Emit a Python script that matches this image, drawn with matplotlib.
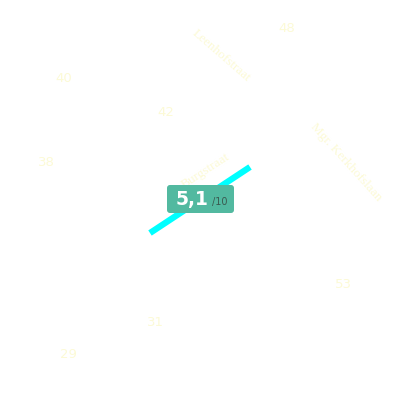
import matplotlib
matplotlib.use("Agg")
import matplotlib.pyplot as plt
from matplotlib.patches import FancyBboxPatch

# house numbers (label, x, y in pixel map coords)
num_labels = ["48", "40", "42", "38", "53", "31", "29"]
num_x = [287, 64, 166, 46, 343, 155, 68]
num_y = [29, 79, 112, 163, 285, 322, 355]

# street names
street_labels = ["Leenhofstraat", "Mgr. Kerkhofslaan", "Burgstraat"]
street_x = [221, 346, 205]
street_y = [56, 162, 171]
street_rot = [-41, -48, 33]

# route segment
seg_x = [150, 250]
seg_y = [233, 167]

score = "5,1"
score_max = "/10"

fig = plt.figure(figsize=(4, 4), dpi=100)
ax = fig.add_axes([0, 0, 1, 1])
ax.set_xlim(0, 400)
ax.set_ylim(400, 0)
ax.axis("off")

faint = "#fcfad6"
for t, x, y in zip(num_labels, num_x, num_y):
    ax.text(x, y, t, color=faint, fontsize=9.5, ha="center", va="center",
            family="DejaVu Sans")
for t, x, y, r in zip(street_labels, street_x, street_y, street_rot):
    ax.text(x, y, t, color=faint, fontsize=9.5, ha="center", va="center",
            rotation=r, rotation_mode="anchor", family="Liberation Serif")

ax.plot(seg_x, seg_y, color="#00ffff", lw=4.5, solid_capstyle="butt", zorder=3)

box = FancyBboxPatch((167, 185), 67, 28, boxstyle="round,pad=0,rounding_size=3",
                     fc="#52b9a0", ec="none", zorder=4)
ax.add_patch(box)
ax.text(192, 200, score, color="white", fontsize=13.5, fontweight="bold",
        ha="center", va="center", zorder=5)
ax.text(220, 202, score_max, color="#3a5a50", fontsize=7,
        ha="center", va="center", zorder=5)

fig.savefig("out.png", dpi=100)
